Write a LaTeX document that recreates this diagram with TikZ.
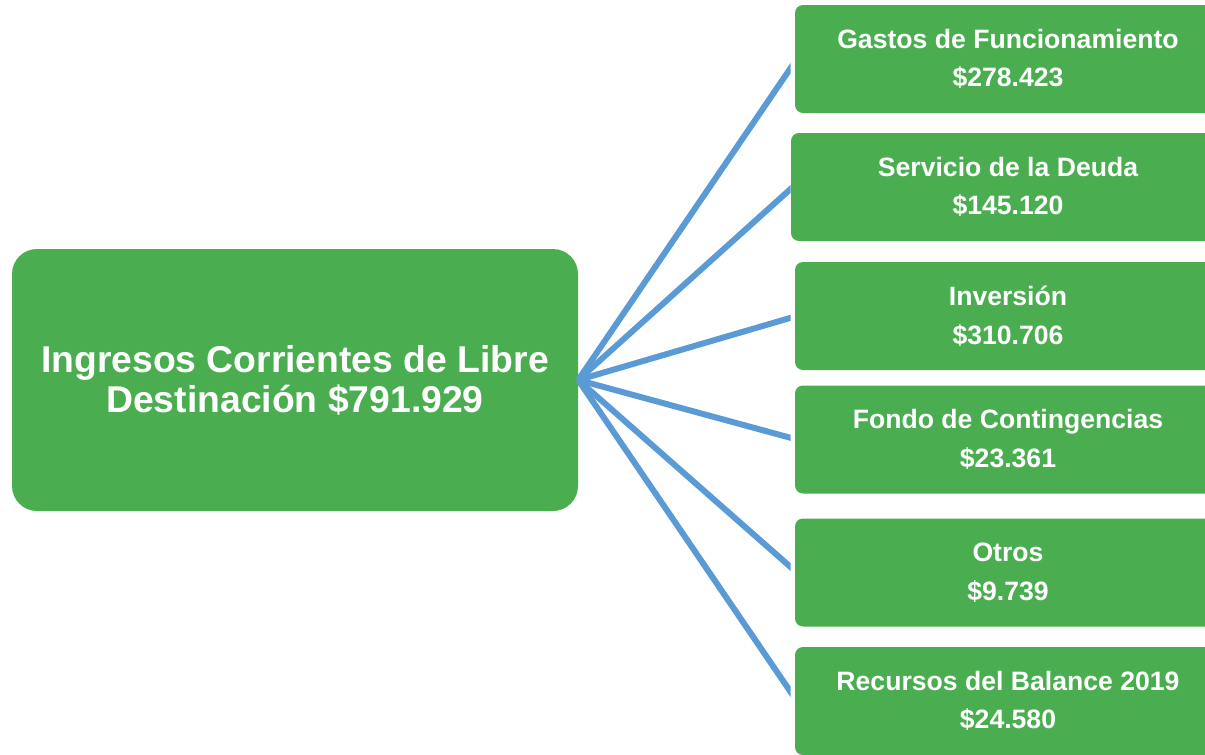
\documentclass[tikz,border=0pt]{standalone}
\usepackage{fontspec}
\setmainfont{Liberation Sans}
\definecolor{boxgreen}{RGB}{74,174,80}
\definecolor{lineblue}{RGB}{91,155,213}
\begin{document}
\begin{tikzpicture}[x=1pt,y=-1pt,
  mainbox/.style={fill=boxgreen, draw=none, rounded corners=25pt, minimum width=566pt, minimum height=262pt,
    inner sep=0pt, align=center, text=white, font=\bfseries\fontsize{37.3}{40}\selectfont},
  itembox/.style={fill=boxgreen, draw=none, rounded corners=8pt, minimum width=426pt, minimum height=108pt,
    inner sep=0pt, align=center, text=white, font=\bfseries\fontsize{26.6}{38.5}\selectfont},
  link/.style={draw=lineblue, line width=6pt}]
\useasboundingbox (0,0) rectangle (1205,755);
\clip (0,0) rectangle (1205,755);
\node[mainbox] (main) at (295,380) {Ingresos Corrientes de Libre\\Destinación \$791.929};
\node[itembox] (b1) at (1008,59) {Gastos de Funcionamiento\\\$278.423};
\node[itembox, minimum width=434pt] (b2) at (1008,187) {Servicio de la Deuda\\\$145.120};
\node[itembox] (b3) at (1008,316) {Inversión\\\$310.706};
\node[itembox] (b4) at (1008,439.5) {Fondo de Contingencias\\\$23.361};
\node[itembox] (b5) at (1008,572.5) {Otros\\\$9.739};
\node[itembox] (b6) at (1008,701) {Recursos del Balance 2019\\\$24.580};
\begin{scope}
\clip (570,0) rectangle (790.5,755);
\foreach \b in {b1,b2,b3,b4,b5,b6}{
  \draw[link] (main.east) -- ([xshift=2pt]\b.west);
}
\end{scope}
\end{tikzpicture}
\end{document}
